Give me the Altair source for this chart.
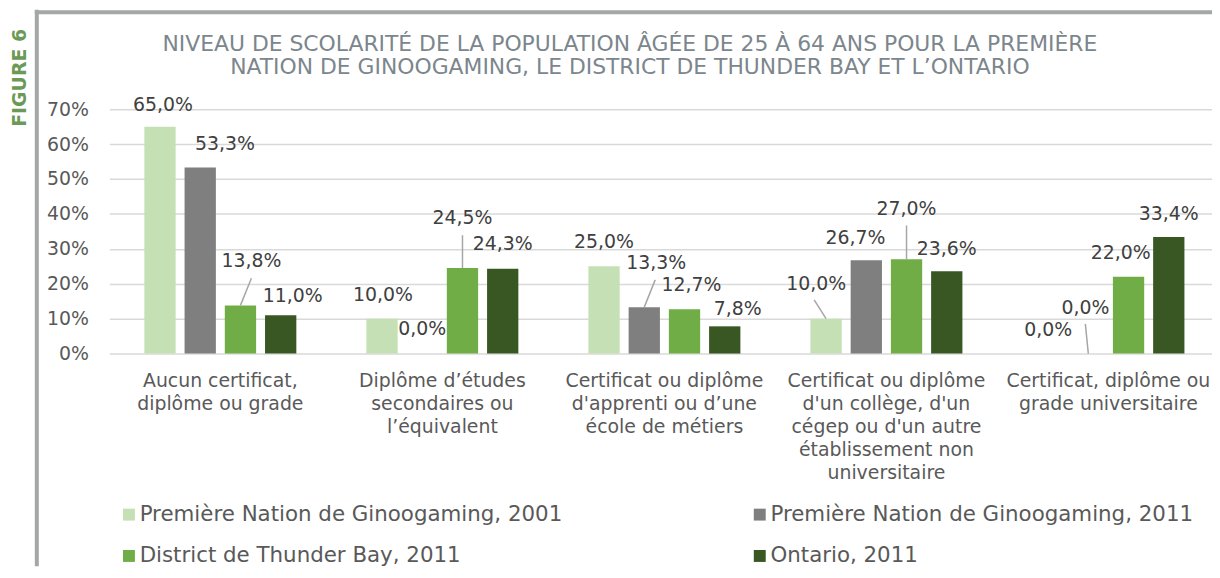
import altair as alt
import pandas as pd

# ---------------- data ----------------
categories = [
    "Aucun certificat,\ndiplôme ou grade",
    "Diplôme d’études\nsecondaires ou\nl’équivalent",
    "Certificat ou diplôme\nd'apprenti ou d’une\nécole de métiers",
    "Certificat ou diplôme\nd'un collège, d'un\ncégep ou d'un autre\nétablissement non\nuniversitaire",
    "Certificat, diplôme ou\ngrade universitaire",
]
series = [
    "Première Nation de Ginoogaming, 2001",
    "Première Nation de Ginoogaming, 2011",
    "District de Thunder Bay, 2011",
    "Ontario, 2011",
]
gino_2001 = [65.0, 10.0, 25.0, 10.0, 0.0]
gino_2011 = [53.3, 0.0, 13.3, 26.7, 0.0]
thunder_bay_2011 = [13.8, 24.5, 12.7, 27.0, 22.0]
ontario_2011 = [11.0, 24.3, 7.8, 23.6, 33.4]
y_ticks = [0, 10, 20, 30, 40, 50, 60, 70]

title_text = ("NIVEAU DE SCOLARITÉ DE LA POPULATION ÂGÉE DE 25 À 64 ANS POUR LA PREMIÈRE\n"
              "NATION DE GINOOGAMING, LE DISTRICT DE THUNDER BAY ET L’ONTARIO")
figure_label = "FIGURE 6"

# ---------------- styling / layout ----------------
colors = ["#c5e0b4", "#7f7f7f", "#70ad47", "#385723"]
FONT = "DejaVu Sans"
PLOT_W, PLOT_H = 1110, 246
PAD = {"left": 102, "top": 100, "right": 0, "bottom": 214}
GROUP_PX = 223.5          # pixels per category group
SLOT_PX = 40.5            # distance between bars in a group
BAR_PX = 31.5             # bar width

# data-label placement (Excel-style moved labels): (series idx, group idx) -> (dx px, centre in %)
label_layout = {
    (0, 0): (3, 71.1), (1, 0): (25, 60.0), (2, 0): (11, 26.5), (3, 0): (12, 16.5),
    (0, 1): (1, 16.8), (1, 1): (0, 7.1), (2, 1): (0, 38.7), (3, 1): (0, 31.3),
    (0, 2): (0, 31.9), (1, 2): (12, 25.8), (2, 2): (7, 19.5), (3, 2): (13, 12.8),
    (0, 3): (-10, 19.9), (1, 3): (-11, 33.2), (2, 3): (0, 41.5), (3, 3): (0, 29.9),
    (0, 4): (0, 6.8), (1, 4): (-3, 13.1), (2, 4): (-8, 28.7), (3, 4): (0, 40.1),
}
# leader lines: (series idx, group idx) -> (end dx px, end in %)
leader_layout = {
    (2, 0): (11, 21.6), (2, 1): (0, 33.9), (1, 2): (11, 21.1),
    (0, 3): (-12, 15.4), (2, 3): (0, 36.7), (1, 4): (-3, 8.5),
}

values = [gino_2001, gino_2011, thunder_bay_2011, ontario_2011]
rows, leads = [], []
for gi, cat in enumerate(categories):
    for si, ser in enumerate(series):
        v = values[si][gi]
        xc = gi + 0.5 + (si - 1.5) * SLOT_PX / GROUP_PX
        dx, ly = label_layout[(si, gi)]
        rows.append({
            "series": ser, "value": v,
            "x0": xc - BAR_PX / 2 / GROUP_PX, "x1": xc + BAR_PX / 2 / GROUP_PX,
            "lx": xc + dx / GROUP_PX, "ly": ly,
        })
        if (si, gi) in leader_layout:
            ex, ey = leader_layout[(si, gi)]
            leads.append({"xs": xc, "ys": v, "xe": xc + ex / GROUP_PX, "ye": ey})
df = pd.DataFrame(rows)
df_lead = pd.DataFrame(leads)
df_cat = pd.DataFrame({"cat": categories, "x": [i + 0.5 for i in range(len(categories))]})

xscale = alt.Scale(domain=[0, PLOT_W / GROUP_PX], nice=False, zero=False)
yscale = alt.Scale(domain=[0, 70], nice=False)
yaxis = alt.Axis(
    values=y_ticks, labelExpr="datum.value + '%'", title=None,
    domain=False, ticks=False, grid=True, gridColor="#d9d9d9", gridWidth=1.5,
    labelFont=FONT, labelFontSize=19, labelColor="#595959", labelPadding=21)

bars = alt.Chart(df).mark_bar().encode(
    x=alt.X("x0:Q", scale=xscale, axis=None),
    x2="x1:Q",
    y=alt.Y("value:Q", scale=yscale, axis=yaxis),
    y2=alt.datum(0),
    color=alt.Color("series:N", scale=alt.Scale(domain=series, range=colors),
                    legend=alt.Legend(
                        orient="none", legendX=9, legendY=397, columns=2,
                        direction="horizontal", title=None,
                        symbolType="square", symbolSize=144, symbolStrokeWidth=0,
                        labelFont=FONT, labelFontSize=21.5, labelColor="#595959",
                        labelLimit=700, labelOffset=0, columnPadding=187, rowPadding=19,
                        padding=0)),
)

labels = alt.Chart(df).transform_calculate(
    txt="replace(format(datum.value, '.1f'), '.', ',') + '%'"
).mark_text(font=FONT, fontSize=19, color="#404040", baseline="middle", align="center").encode(
    x=alt.X("lx:Q", scale=xscale, axis=None),
    y=alt.Y("ly:Q", scale=yscale, axis=yaxis),
    text="txt:N",
)

leaders = alt.Chart(df_lead).mark_rule(color="#a6a6a6", strokeWidth=1.5).encode(
    x=alt.X("xs:Q", scale=xscale, axis=None), x2="xe:Q",
    y=alt.Y("ys:Q", scale=yscale, axis=yaxis), y2="ye:Q",
)

cat_labels = alt.Chart(df_cat).mark_text(
    font=FONT, fontSize=19, color="#595959", align="center", baseline="top",
    lineBreak="\n", lineHeight=23,
).encode(
    x=alt.X("x:Q", scale=xscale, axis=None),
    y=alt.value(265),
    text="cat:N",
)

one = alt.Data(values=[{"t": title_text, "f": figure_label}])
title = alt.Chart(one).mark_text(
    font=FONT, fontSize=22, color="#7b868d", align="center", baseline="alphabetic",
    lineBreak="\n", lineHeight=24,
).encode(x=alt.value(524), y=alt.value(-59), text="t:N")

fig = alt.Chart(one).mark_text(
    font=FONT, fontSize=19, fontWeight="bold", color="#6b9a57", align="center",
    baseline="middle", angle=270,
).encode(x=alt.value(-90), y=alt.value(-31.5), text="f:N")

frame_left = alt.Chart(one).mark_rule(color="#a3a7a5", strokeWidth=4).encode(
    x=alt.value(-73), y=alt.value(-100), y2=alt.value(PLOT_H + PAD["bottom"]))
frame_top = alt.Chart(one).mark_rule(color="#a3a7a5", strokeWidth=4).encode(
    x=alt.value(-75), x2=alt.value(PLOT_W), y=alt.value(-97.5))

chart = alt.layer(
    bars, leaders, labels, cat_labels, title, fig, frame_left, frame_top
).properties(
    width=PLOT_W, height=PLOT_H,
    padding=PAD,
    autosize=alt.AutoSizeParams(type="none"),
    background="white",
).configure_view(stroke=None)

chart.save("out.html", embed_options={"renderer": "svg", "actions": False})
